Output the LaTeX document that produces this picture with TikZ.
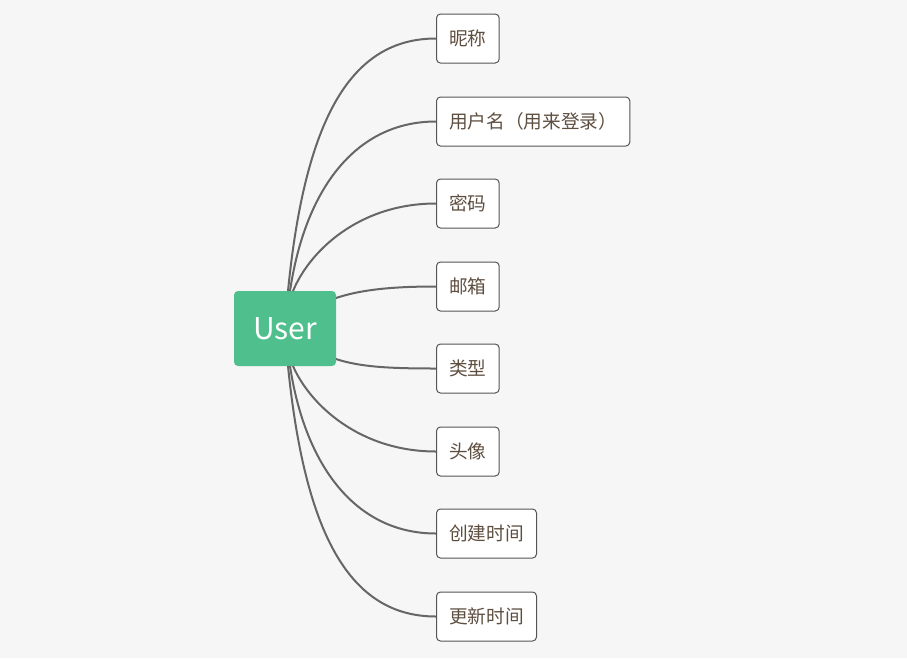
\documentclass[tikz,border=0pt]{standalone}
\usepackage{fontspec}
\setmainfont{Noto Sans CJK SC}
\newfontfamily\cjk{Noto Sans CJK SC}
\definecolor{bg}{HTML}{F6F6F6}
\definecolor{vgreen}{HTML}{4FC08D}
\definecolor{leaftext}{HTML}{5E4E40}
\definecolor{linecol}{HTML}{666666}
\definecolor{boxline}{HTML}{555555}
\begin{document}
\begin{tikzpicture}[x=0.75pt,y=-0.75pt,
  rootbox/.style={fill=vgreen, rounded corners=3pt, minimum width=76.5pt, minimum height=56.25pt, inner sep=0pt, text=white, font=\cjk\fontsize{22.5}{26}\selectfont},
  leafbox/.style={draw=boxline, line width=0.75pt, fill=white, rounded corners=3pt, anchor=west, minimum height=36.75pt, inner xsep=9.5pt, inner ysep=0pt, text=leaftext, font=\cjk\fontsize{14}{16}\selectfont},
  link/.style={draw=linecol, line width=1.5pt}
]
\useasboundingbox[fill=bg] (0,0) rectangle (907,658);
\node[rootbox] (root) at (285,328.5) {User};
\node[leafbox] (l1) at (436,38.5) {昵称};
\node[leafbox] (l2) at (436,121.5) {用户名（用来登录）};
\node[leafbox] (l3) at (436,203.5) {密码};
\node[leafbox] (l4) at (436,286.5) {邮箱};
\node[leafbox] (l5) at (436,368.5) {类型};
\node[leafbox] (l6) at (436,451.5) {头像};
\node[leafbox] (l7) at (436,533.5) {创建时间};
\node[leafbox] (l8) at (436,616.5) {更新时间};
\coordinate (s1) at (288,291);
\coordinate (s2) at (290,291);
\coordinate (s3) at (293,291);
\coordinate (s6) at (293,366);
\coordinate (s7) at (290,366);
\coordinate (s8) at (288,366);
\coordinate (s4) at (336,298);
\coordinate (s5) at (336,359);
\path[link] (s1) .. controls (305,120) and (350,38.5) .. (l1.west);
\path[link] (s2) .. controls (305,190) and (355,121.5) .. (l2.west);
\path[link] (s3) .. controls (310,250) and (360,203.5) .. (l3.west);
\path[link] (s4) .. controls (360,290) and (390,286.5) .. (l4.west);
\path[link] (s5) .. controls (360,367) and (390,368.5) .. (l5.west);
\path[link] (s6) .. controls (310,405) and (360,451.5) .. (l6.west);
\path[link] (s7) .. controls (305,465) and (355,533.5) .. (l7.west);
\path[link] (s8) .. controls (305,535) and (350,616.5) .. (l8.west);
\end{tikzpicture}
\end{document}
